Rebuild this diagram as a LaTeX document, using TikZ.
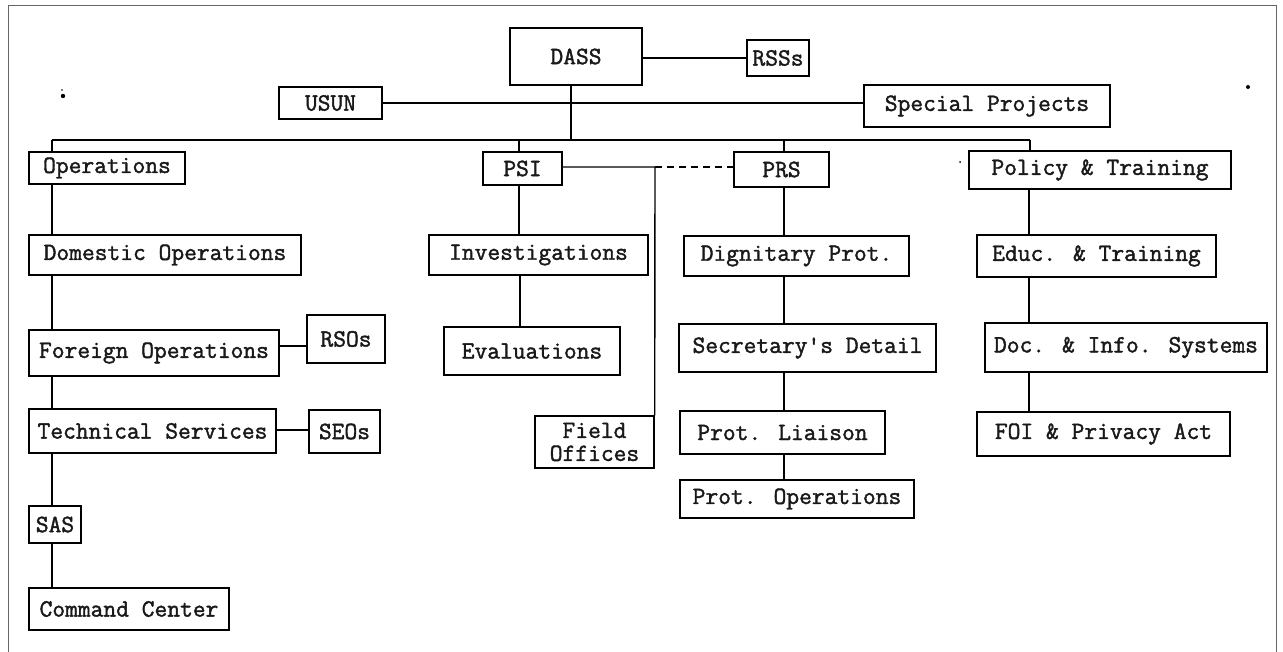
\documentclass[tikz,border=0pt]{standalone}
\usepackage{fontspec}
\newfontfamily\typew{Latin Modern Mono}[FakeBold=1.6]
\begin{document}
\begin{tikzpicture}[x=1pt,y=-1pt,
  box/.style={draw, line width=1.4pt, rectangle, inner sep=0pt, fill=white,
    font=\typew\fontsize{24.8}{23}\selectfont, text=black!90},
  conn/.style={line width=1.4pt},
  frameline/.style={line width=0.8pt, draw=black!60}]
\useasboundingbox (0,0) rectangle (1283,652);
\draw[frameline] (8,652) -- (8,5) -- (1276,5) -- (1276,652);
% top level
\node[box, minimum width=132, minimum height=57] (DASS) at (576,56.5) {DASS};
\node[box, minimum width=62, minimum height=36] (RSS) at (778,58) {RSSs};
\node[box, minimum width=103, minimum height=32] (USUN) at (330.5,103) {USUN};
\node[box, minimum width=246, minimum height=42] (SP) at (987,106) {Special Projects};
% second level
\node[box, minimum width=156, minimum height=32] (Ops) at (107,168) {Operations};
\node[box, minimum width=79, minimum height=33] (PSI) at (522.5,168.5) {PSI};
\node[box, minimum width=95, minimum height=35] (PRS) at (781.5,169.5) {PRS};
\node[box, minimum width=262, minimum height=38] (PT) at (1100,170) {Policy \& Training};
% operations column
\node[box, minimum width=272, minimum height=40] (Dom) at (165,255) {Domestic Operations};
\node[box, minimum width=250, minimum height=46] (For) at (154,353) {Foreign Operations};
\node[box, minimum width=78, minimum height=48] (RSO) at (346,339) {RSOs};
\node[box, minimum width=247, minimum height=44] (Tech) at (152.5,431) {Technical Services};
\node[box, minimum width=71, minimum height=43] (SEO) at (344.5,431.5) {SEOs};
\node[box, minimum width=52, minimum height=37] (SAS) at (55,524.5) {SAS};
\node[box, minimum width=200, minimum height=42] (Cmd) at (129,609) {Command Center};
% PSI column
\node[box, minimum width=219, minimum height=40] (Inv) at (538.5,255) {Investigations};
\node[box, minimum width=176, minimum height=48] (Eval) at (532,351) {Evaluations};
\node[box, minimum width=119, minimum height=52, align=center] (Field) at (594.5,442) {Field\\Offices};
% PRS column
\node[box, minimum width=225, minimum height=40] (Dig) at (796.5,256) {Dignitary Prot.};
\node[box, minimum width=257, minimum height=48] (Sec) at (807.5,348) {Secretary's Detail};
\node[box, minimum width=205, minimum height=43] (PL) at (782.5,432.5) {Prot. Liaison};
\node[box, minimum width=234, minimum height=38] (PO) at (797,499) {Prot. Operations};
% Policy column
\node[box, minimum width=239, minimum height=42] (ET) at (1096.5,256) {Educ. \& Training};
\node[box, minimum width=282, minimum height=49] (DIS) at (1126,347.5) {Doc. \& Info. Systems};
\node[box, minimum width=253, minimum height=44] (FOI) at (1103.5,434) {FOI \& Privacy Act};
% coordinates
\coordinate (barL) at (52,140);
\coordinate (barR) at (1030,140);
\coordinate (dassj) at (571,140);
\coordinate (psij) at (519,140);
\coordinate (prsj) at (784,140);
\coordinate (fj) at (655,167);
% connectors
\draw[conn] (barL) -- (barR);
\draw[conn] (dassj |- DASS.south) -- (dassj);
\draw[conn] (DASS.east |- RSS.west) -- (RSS.west);
\draw[conn] (USUN.east) -- (USUN.east -| SP.west);
% operations chain
\draw[conn] (barL) -- (barL |- Ops.north);
\draw[conn] (barL |- Ops.south) -- (barL |- Dom.north);
\draw[conn] (barL |- Dom.south) -- (barL |- For.north);
\draw[conn] (barL |- For.south) -- (barL |- Tech.north);
\draw[conn] (barL |- Tech.south) -- (barL |- SAS.north);
\draw[conn] (barL |- SAS.south) -- (barL |- Cmd.north);
\draw[conn] (For.east |- 0,346) -- (RSO.west |- 0,346);
\draw[conn] (Tech.east |- 0,430) -- (SEO.west |- 0,430);
% PSI chain
\draw[conn] (psij) -- (psij |- PSI.north);
\draw[conn] (psij |- PSI.south) -- (psij |- Inv.north);
\draw[conn] (520,0 |- Inv.south) -- (520,0 |- Eval.north);
\draw[conn] (PSI.east |- fj) -- (fj) -- (Field.north east);
\draw[conn, dashed, dash pattern=on 7pt off 5pt] (fj) -- (fj -| PRS.west);
% PRS chain
\draw[conn] (prsj) -- (prsj |- PRS.north);
\draw[conn] (prsj |- PRS.south) -- (prsj |- Dig.north);
\draw[conn] (prsj |- Dig.south) -- (prsj |- Sec.north);
\draw[conn] (prsj |- Sec.south) -- (prsj |- PL.north);
\draw[conn] (prsj |- PL.south) -- (prsj |- PO.north);
% Policy chain
\draw[conn] (barR) -- (barR |- PT.north);
\draw[conn] (1029,0 |- PT.south) -- (1029,0 |- ET.north);
\draw[conn] (1029,0 |- ET.south) -- (1029,0 |- DIS.north);
\draw[conn] (1029,0 |- DIS.south) -- (1029,0 |- FOI.north);
% specks
\fill (63,96) circle (2.2pt);
\fill (62,90) circle (0.9pt);
\fill (1248,87) circle (2pt);
\fill (960,162) circle (1pt);
\end{tikzpicture}
\end{document}
